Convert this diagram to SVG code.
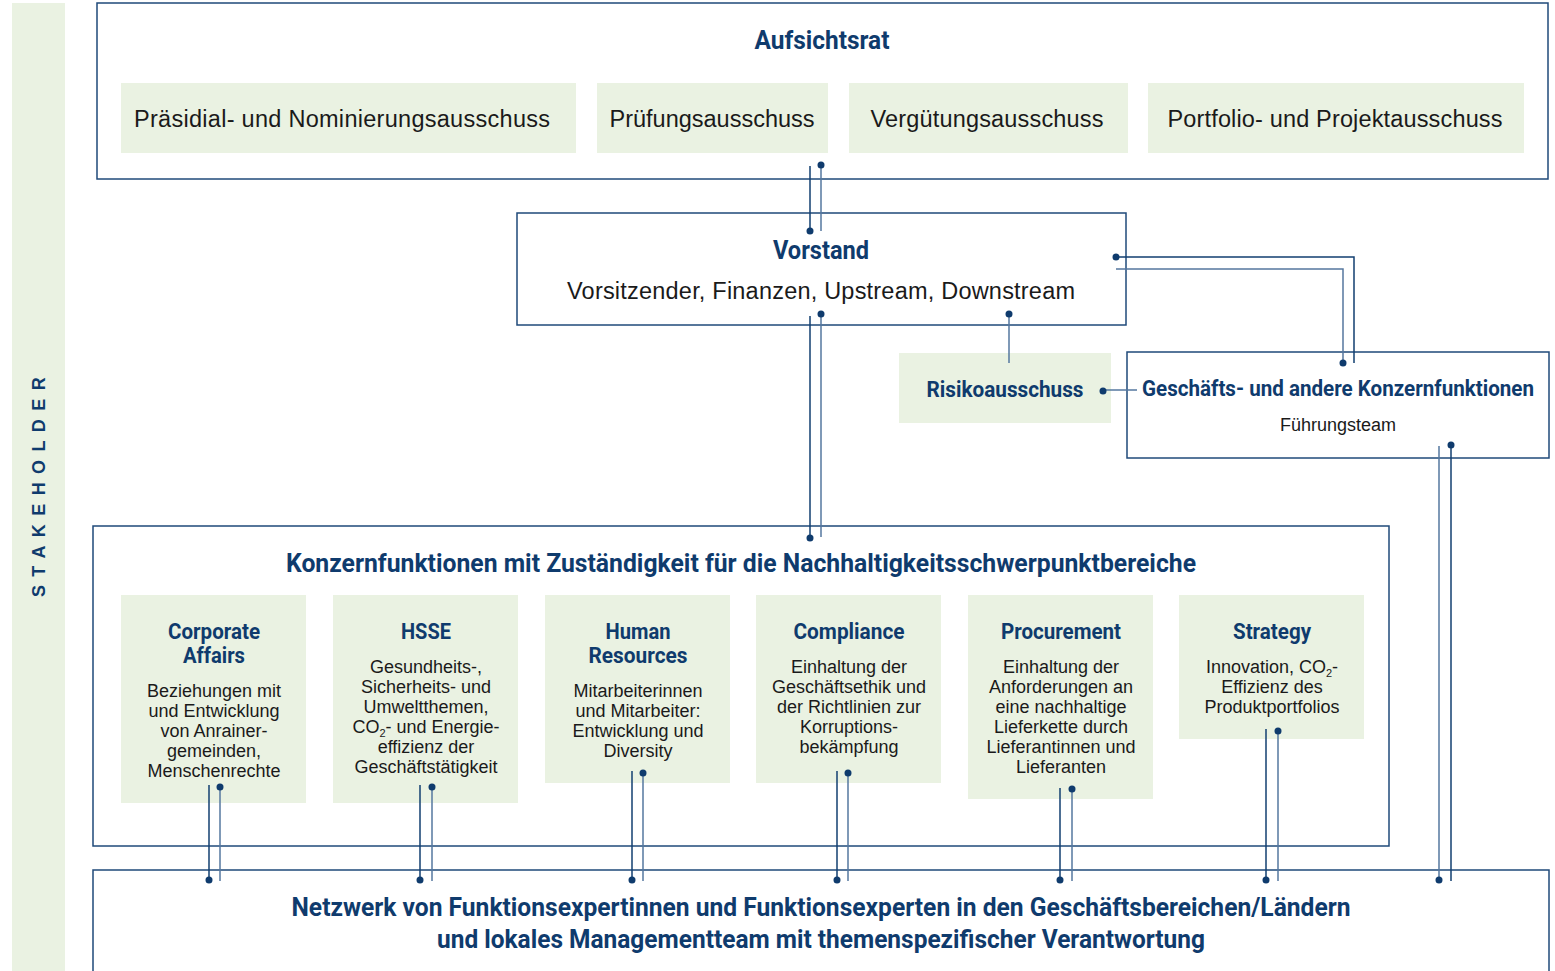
<svg xmlns="http://www.w3.org/2000/svg" width="1555" height="971" viewBox="0 0 1555 971">
  <style>
    .frame { fill: #ffffff; stroke: #1f4a7a; stroke-width: 1.5; }
    .tile { fill: #eaf2e2; }
    .head { font-family: "Roboto", "Liberation Sans", sans-serif; font-weight: 700; fill: #0f3b6d; text-anchor: middle; }
    .h1 { font-size: 25px; }
    .h2 { font-size: 22px; }
    .lbl { font-family: "Liberation Sans", "Arial", sans-serif; fill: #1a1a1a; text-anchor: middle; }
    .big { font-size: 23.5px; }
    .body { font-size: 18px; }
    .small { font-size: 18px; }
    .wire { fill: none; stroke: #123f70; stroke-width: 1.5; }
    .wire2 { fill: none; stroke: #55779f; stroke-width: 1.5; }
    .dot { fill: #0f3b6d; }
    .side { font-family: "Liberation Sans", sans-serif; font-weight: 700; font-size: 18px; fill: #0f3b6d; letter-spacing: 8.4px; text-anchor: middle; }
  </style>

  <!-- left stakeholder band -->
  <g id="stakeholder">
    <rect x="12" y="3" width="53" height="968" fill="#eaf2e2"/>
    <text class="side" transform="translate(45 483) rotate(-90)">STAKEHOLDER</text>
  </g>

  <!-- supervisory board -->
  <g id="aufsichtsrat">
    <rect class="frame" x="97" y="3" width="1451" height="176"/>
    <text class="head h1" x="822" y="49" textLength="135" lengthAdjust="spacingAndGlyphs">Aufsichtsrat</text>
    <rect class="tile" x="121" y="83" width="455" height="70"/>
    <text class="lbl big" x="342" y="127" textLength="416">Präsidial- und Nominierungsausschuss</text>
    <rect class="tile" x="597" y="83" width="231" height="70"/>
    <text class="lbl big" x="712" y="127" textLength="205">Prüfungsausschuss</text>
    <rect class="tile" x="849" y="83" width="279" height="70"/>
    <text class="lbl big" x="987" y="127" textLength="233">Vergütungsausschuss</text>
    <rect class="tile" x="1148" y="83" width="376" height="70"/>
    <text class="lbl big" x="1335" y="127" textLength="335">Portfolio- und Projektausschuss</text>
  </g>

  <!-- executive board -->
  <g id="vorstand">
    <rect class="frame" x="517" y="213" width="609" height="112"/>
    <text class="head h1" x="821" y="259" textLength="96" lengthAdjust="spacingAndGlyphs">Vorstand</text>
    <text class="lbl big" x="821" y="299" textLength="508">Vorsitzender, Finanzen, Upstream, Downstream</text>
  </g>

  <!-- risk committee -->
  <g id="risikoausschuss">
    <rect class="tile" x="899" y="353" width="212" height="70"/>
    <text class="head h2" x="1005" y="397" textLength="157" lengthAdjust="spacingAndGlyphs">Risikoausschuss</text>
  </g>

  <!-- business and other group functions -->
  <g id="geschaeftsfunktionen">
    <rect class="frame" x="1127" y="352" width="422" height="106"/>
    <text class="head h2" x="1338" y="396" textLength="392" lengthAdjust="spacingAndGlyphs">Geschäfts- und andere Konzernfunktionen</text>
    <text class="lbl small" x="1338" y="431">Führungsteam</text>
  </g>

  <!-- group functions for sustainability focus areas -->
  <g id="konzernfunktionen">
    <rect class="frame" x="93" y="526" width="1296" height="320"/>
    <text class="head h1" x="741" y="572" textLength="910" lengthAdjust="spacingAndGlyphs">Konzernfunktionen mit Zuständigkeit für die Nachhaltigkeitsschwerpunktbereiche</text>
  </g>

  <g id="corporate-affairs">
    <rect class="tile" x="121" y="595" width="185" height="208"/>
    <text class="head h2" x="214" y="639" textLength="92" lengthAdjust="spacingAndGlyphs">Corporate</text>
    <text class="head h2" x="214" y="663" textLength="62" lengthAdjust="spacingAndGlyphs">Affairs</text>
    <text class="lbl body" x="214" y="697">Beziehungen mit</text>
    <text class="lbl body" x="214" y="717">und Entwicklung</text>
    <text class="lbl body" x="214" y="737">von Anrainer-</text>
    <text class="lbl body" x="214" y="757">gemeinden,</text>
    <text class="lbl body" x="214" y="777">Menschenrechte</text>
  </g>

  <g id="hsse">
    <rect class="tile" x="333" y="595" width="185" height="208"/>
    <text class="head h2" x="426" y="639" textLength="50" lengthAdjust="spacingAndGlyphs">HSSE</text>
    <text class="lbl body" x="426" y="673">Gesundheits-,</text>
    <text class="lbl body" x="426" y="693">Sicherheits- und</text>
    <text class="lbl body" x="426" y="713">Umweltthemen,</text>
    <text class="lbl body" x="426" y="733">CO<tspan font-size="11" dy="4">2</tspan><tspan dy="-4">- und Energie-</tspan></text>
    <text class="lbl body" x="426" y="753">effizienz der</text>
    <text class="lbl body" x="426" y="773">Geschäftstätigkeit</text>
  </g>

  <g id="human-resources">
    <rect class="tile" x="545" y="595" width="185" height="188"/>
    <text class="head h2" x="638" y="639" textLength="65" lengthAdjust="spacingAndGlyphs">Human</text>
    <text class="head h2" x="638" y="663" textLength="99" lengthAdjust="spacingAndGlyphs">Resources</text>
    <text class="lbl body" x="638" y="697">Mitarbeiterinnen</text>
    <text class="lbl body" x="638" y="717">und Mitarbeiter:</text>
    <text class="lbl body" x="638" y="737">Entwicklung und</text>
    <text class="lbl body" x="638" y="757">Diversity</text>
  </g>

  <g id="compliance">
    <rect class="tile" x="756" y="595" width="185" height="188"/>
    <text class="head h2" x="849" y="639" textLength="111" lengthAdjust="spacingAndGlyphs">Compliance</text>
    <text class="lbl body" x="849" y="673">Einhaltung der</text>
    <text class="lbl body" x="849" y="693">Geschäftsethik und</text>
    <text class="lbl body" x="849" y="713">der Richtlinien zur</text>
    <text class="lbl body" x="849" y="733">Korruptions-</text>
    <text class="lbl body" x="849" y="753">bekämpfung</text>
  </g>

  <g id="procurement">
    <rect class="tile" x="968" y="595" width="185" height="204"/>
    <text class="head h2" x="1061" y="639" textLength="120" lengthAdjust="spacingAndGlyphs">Procurement</text>
    <text class="lbl body" x="1061" y="673">Einhaltung der</text>
    <text class="lbl body" x="1061" y="693">Anforderungen an</text>
    <text class="lbl body" x="1061" y="713">eine nachhaltige</text>
    <text class="lbl body" x="1061" y="733">Lieferkette durch</text>
    <text class="lbl body" x="1061" y="753">Lieferantinnen und</text>
    <text class="lbl body" x="1061" y="773">Lieferanten</text>
  </g>

  <g id="strategy">
    <rect class="tile" x="1179" y="595" width="185" height="144"/>
    <text class="head h2" x="1272" y="639" textLength="78" lengthAdjust="spacingAndGlyphs">Strategy</text>
    <text class="lbl body" x="1272" y="673">Innovation, CO<tspan font-size="11" dy="4">2</tspan><tspan dy="-4">-</tspan></text>
    <text class="lbl body" x="1272" y="693">Effizienz des</text>
    <text class="lbl body" x="1272" y="713">Produktportfolios</text>
  </g>

  <!-- network of functional experts -->
  <g id="netzwerk">
    <rect class="frame" x="93" y="870" width="1456" height="140"/>
    <text class="head h1" x="821" y="916" textLength="1059" lengthAdjust="spacingAndGlyphs">Netzwerk von Funktionsexpertinnen und Funktionsexperten in den Geschäftsbereichen/Ländern</text>
    <text class="head h1" x="821" y="948" textLength="768" lengthAdjust="spacingAndGlyphs">und lokales Managementteam mit themenspezifischer Verantwortung</text>
  </g>

  <!-- reporting lines: each link is a pair of wires, dot marks the receiving end -->
  <g id="connectors">
    <!-- Aufsichtsrat / Vorstand -->
    <line class="wire" x1="810" y1="166" x2="810" y2="231"/>
    <circle class="dot" cx="810" cy="231" r="3.5"/>
    <line class="wire2" x1="821" y1="165" x2="821" y2="231"/>
    <circle class="dot" cx="821" cy="165" r="3.5"/>

    <!-- Vorstand / Konzernfunktionen -->
    <line class="wire" x1="810" y1="316" x2="810" y2="538"/>
    <circle class="dot" cx="810" cy="538" r="3.5"/>
    <line class="wire2" x1="821" y1="314" x2="821" y2="537"/>
    <circle class="dot" cx="821" cy="314" r="3.5"/>

    <!-- Vorstand / Risikoausschuss -->
    <line class="wire2" x1="1009" y1="314" x2="1009" y2="363"/>
    <circle class="dot" cx="1009" cy="314" r="3.5"/>

    <!-- Risikoausschuss / Geschäftsfunktionen -->
    <line class="wire2" x1="1103" y1="390" x2="1137" y2="390"/>
    <circle class="dot" cx="1103" cy="391" r="3.5"/>

    <!-- Vorstand / Geschäftsfunktionen -->
    <polyline class="wire" points="1116,257 1354,257 1354,363"/>
    <circle class="dot" cx="1116" cy="257" r="3.5"/>
    <polyline class="wire2" points="1116,269 1343,269 1343,363"/>
    <circle class="dot" cx="1343" cy="363" r="3.5"/>

    <!-- Geschäftsfunktionen / Netzwerk -->
    <line class="wire2" x1="1439" y1="446" x2="1439" y2="881"/>
    <circle class="dot" cx="1439" cy="880" r="3.5"/>
    <line class="wire" x1="1451" y1="445" x2="1451" y2="881"/>
    <circle class="dot" cx="1451" cy="445" r="3.5"/>

    <!-- focus functions / Netzwerk -->
    <line class="wire" x1="209" y1="785" x2="209" y2="881"/>
    <circle class="dot" cx="209" cy="880" r="3.5"/>
    <line class="wire2" x1="220" y1="787" x2="220" y2="881"/>
    <circle class="dot" cx="220" cy="787" r="3.5"/>

    <line class="wire" x1="420" y1="785" x2="420" y2="881"/>
    <circle class="dot" cx="420" cy="880" r="3.5"/>
    <line class="wire2" x1="432" y1="787" x2="432" y2="881"/>
    <circle class="dot" cx="432" cy="787" r="3.5"/>

    <line class="wire" x1="632" y1="771" x2="632" y2="881"/>
    <circle class="dot" cx="632" cy="880" r="3.5"/>
    <line class="wire2" x1="643" y1="773" x2="643" y2="881"/>
    <circle class="dot" cx="643" cy="773" r="3.5"/>

    <line class="wire" x1="837" y1="771" x2="837" y2="881"/>
    <circle class="dot" cx="837" cy="880" r="3.5"/>
    <line class="wire2" x1="848" y1="773" x2="848" y2="881"/>
    <circle class="dot" cx="848" cy="773" r="3.5"/>

    <line class="wire" x1="1060" y1="788" x2="1060" y2="881"/>
    <circle class="dot" cx="1060" cy="880" r="3.5"/>
    <line class="wire2" x1="1072" y1="789" x2="1072" y2="881"/>
    <circle class="dot" cx="1072" cy="789" r="3.5"/>

    <line class="wire" x1="1266" y1="729" x2="1266" y2="881"/>
    <circle class="dot" cx="1266" cy="880" r="3.5"/>
    <line class="wire2" x1="1278" y1="731" x2="1278" y2="881"/>
    <circle class="dot" cx="1278" cy="731" r="3.5"/>
  </g>
</svg>
